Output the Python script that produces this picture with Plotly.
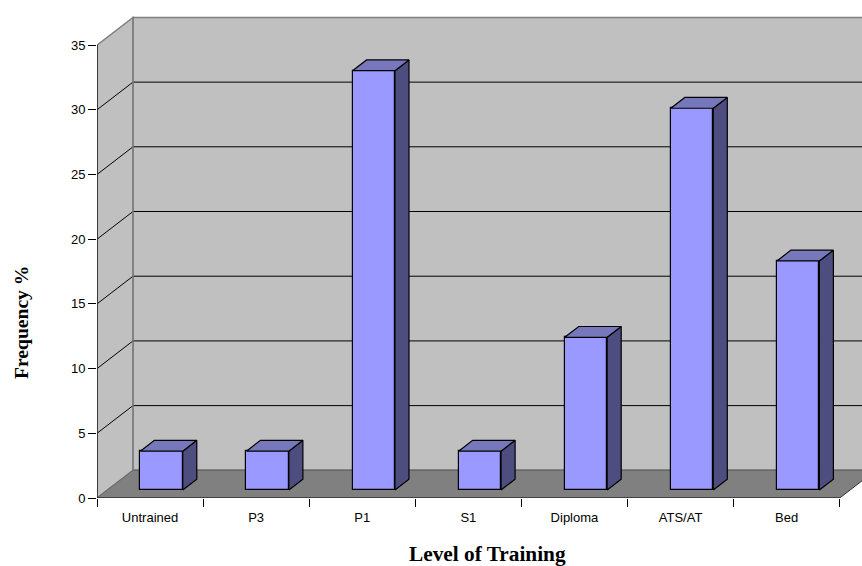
import plotly.graph_objects as go

categories = ["Untrained", "P3", "P1", "S1", "Diploma", "ATS/AT", "Bed"]
values = [3.0, 3.0, 32.4, 3.0, 11.8, 29.5, 17.7]
y_ticks = [0, 5, 10, 15, 20, 25, 30, 35]
x_title = "Level of Training"
y_title = "Frequency %"

# oblique projection: depth 0..1 shifts a point right and up (in axis units)
DEPTH_X = 0.339
DEPTH_Y = 2.14
BAR_NEAR = 0.29
BAR_FAR = 0.68
BAR_WIDTH = 0.4
BAR_SHIFT = 0.01
X0, X1 = -0.5, len(categories) - 0.5
Y_MAX = y_ticks[-1]

FRONT = "#9999FF"
SIDE = "#4D4D80"
TOP = "#7777BB"
WALL = "#C0C0C0"
FLOOR = "#808080"
EDGE = "#808080"


def proj(x, v, d):
    return x + d * DEPTH_X, v + d * DEPTH_Y


def poly(points, fill, line, width=1):
    path = "M " + " L ".join(f"{x},{y}" for x, y in points) + " Z"
    return dict(type="path", path=path, xref="x", yref="y", layer="below",
                fillcolor=fill, line=dict(color=line, width=width))


def seg(a, b, color, width=1):
    return dict(type="line", xref="x", yref="y", layer="below",
                x0=a[0], y0=a[1], x1=b[0], y1=b[1],
                line=dict(color=color, width=width))


far_right = X1 + 1
shapes = [
    # back wall
    poly([proj(X0, 0, 1), proj(far_right, 0, 1), proj(far_right, Y_MAX, 1), proj(X0, Y_MAX, 1)], WALL, EDGE, 1.5),
    # left wall
    poly([proj(X0, 0, 0), proj(X0, 0, 1), proj(X0, Y_MAX, 1), proj(X0, Y_MAX, 0)], WALL, EDGE, 1.5),
]
for t in y_ticks[1:-1]:
    shapes.append(seg(proj(X0, t, 0), proj(X0, t, 1), "#000000"))
    shapes.append(seg(proj(X0, t, 1), proj(far_right, t, 1), "#000000"))
# floor
shapes.append(poly([proj(X0, 0, 0), proj(X1, 0, 0), proj(X1, 0, 1), proj(far_right, 0, 1), proj(X0, 0, 1)], FLOOR, FLOOR, 0))
shapes.append(seg(proj(X0, 0, 1), proj(far_right, 0, 1), "#666666", 1.5))
shapes.append(seg(proj(X0, 0, 0), proj(X0, 0, 1), "#666666", 1))
shapes.append(seg(proj(X1, 0, 0), proj(X1, 0, 1), "#333333", 1))
shapes.append(seg(proj(X0, 0, 1), proj(X0, Y_MAX, 1), EDGE, 1.5))

fig = go.Figure()

centers = [i + BAR_SHIFT + BAR_NEAR * DEPTH_X for i in range(len(categories))]
fig.add_trace(go.Bar(
    x=centers,
    y=values,
    base=[BAR_NEAR * DEPTH_Y] * len(values),
    width=BAR_WIDTH,
    marker=dict(color=FRONT, line=dict(color="#000000", width=1.2)),
    name="Frequency %",
    hoverinfo="skip",
))

for i, v in enumerate(values):
    left = i + BAR_SHIFT - BAR_WIDTH / 2
    right = i + BAR_SHIFT + BAR_WIDTH / 2
    # right side face
    pts = [proj(right, 0, BAR_NEAR), proj(right, 0, BAR_FAR), proj(right, v, BAR_FAR), proj(right, v, BAR_NEAR), proj(right, 0, BAR_NEAR)]
    fig.add_trace(go.Scatter(x=[p[0] for p in pts], y=[p[1] for p in pts], mode="lines", fill="toself",
                             fillcolor=SIDE, line=dict(color="#000000", width=1.2), hoverinfo="skip"))
    # top face
    pts = [proj(left, v, BAR_NEAR), proj(right, v, BAR_NEAR), proj(right, v, BAR_FAR), proj(left, v, BAR_FAR), proj(left, v, BAR_NEAR)]
    fig.add_trace(go.Scatter(x=[p[0] for p in pts], y=[p[1] for p in pts], mode="lines", fill="toself",
                             fillcolor=TOP, line=dict(color="#000000", width=1.2), hoverinfo="skip"))

# axis lines
fig.add_trace(go.Scatter(x=[X0, X1], y=[0, 0], mode="lines", line=dict(color="#000000", width=1.2),
                         cliponaxis=False, hoverinfo="skip"))
fig.add_trace(go.Scatter(x=[X0, X0], y=[0, Y_MAX], mode="lines", line=dict(color="#222222", width=1.5),
                         cliponaxis=False, hoverinfo="skip"))

tick_font = dict(family="Liberation Sans", size=13, color="#000000")
x_title_font = dict(family="Liberation Serif", size=21.3, color="#000000")
y_title_font = dict(family="Liberation Serif", size=19.6, color="#000000")

fig.update_layout(
    width=862, height=566,
    margin=dict(l=97, r=0, t=10, b=68, pad=0),
    paper_bgcolor="white", plot_bgcolor="white",
    showlegend=False,
    shapes=shapes,
    bargap=0,
    xaxis=dict(
        range=[X0, X0 + 765 / 106.1],
        tickmode="array", tickvals=list(range(len(categories))), ticktext=categories,
        ticks="outside", ticklen=7, tickcolor="rgba(0,0,0,0)", tickwidth=1,
        showgrid=False, zeroline=False, showline=False,
        tickfont=tick_font,
        minor=dict(tickmode="array", tickvals=[i - 0.5 for i in range(len(categories) + 1)],
                   ticks="outside", ticklen=8, tickcolor="#000000", tickwidth=1, showgrid=False),
    ),
    yaxis=dict(
        range=[0, 488 / 12.94],
        tickmode="array", tickvals=y_ticks,
        ticks="outside", ticklen=8, tickcolor="#000000", tickwidth=1,
        showgrid=False, zeroline=False, showline=False,
        tickfont=tick_font,
    ),
    annotations=[
        dict(text=f"<b>{x_title}</b>", xref="paper", yref="paper", x=(488 - 97) / 765, y=(498 - 554) / 488,
             xanchor="center", yanchor="middle", showarrow=False, font=x_title_font),
        dict(text=f"<b>{y_title}</b>", xref="paper", yref="paper", x=(21.5 - 97) / 765, y=(498 - 322.5) / 488,
             xanchor="center", yanchor="middle", textangle=-90, showarrow=False, font=y_title_font),
    ],
)

fig.write_html("out.html", config=dict(displayModeBar=False),
               post_script="document.body.style.margin='0';")
